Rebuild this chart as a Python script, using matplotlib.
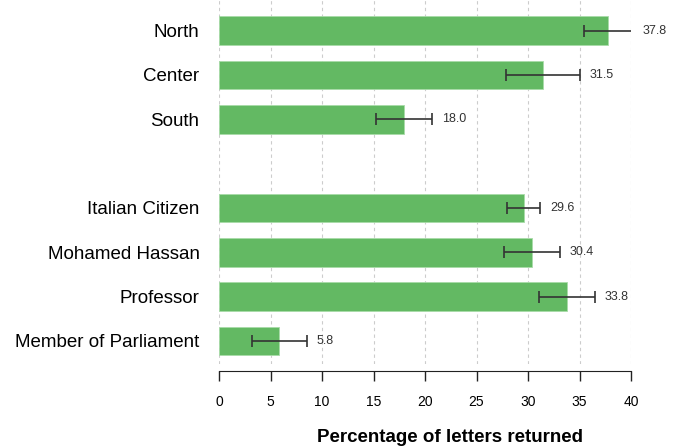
import matplotlib
matplotlib.use("Agg")
import matplotlib.pyplot as plt
import numpy as np

plt.rcParams['font.family'] = ['Liberation Sans', 'DejaVu Sans']

# data
groups = ["North", "Center", "South", "Italian Citizen", "Mohamed Hassan", "Professor", "Member of Parliament"]
returned = [37.8, 31.5, 18.0, 29.6, 30.4, 33.8, 5.8]
ci_low = [35.4, 27.9, 15.2, 28.0, 27.7, 31.1, 3.2]
ci_high = [40.2, 35.0, 20.7, 31.2, 33.1, 36.5, 8.5]
positions = [0, 1, 2, 4, 5, 6, 7]  # gap between region and sender blocks
x_ticks = [0, 5, 10, 15, 20, 25, 30, 35, 40]

bar_color = '#63b963'

fig = plt.figure(figsize=(6.82, 4.46), dpi=100)
ax = fig.add_axes([219 / 682, 82 / 446, 412 / 682, 364 / 446])

vals = np.array(returned)
xerr = np.array([vals - np.array(ci_low), np.array(ci_high) - vals])

ax.barh(positions, returned, height=0.65, color=bar_color, edgecolor='#a8dca8', linewidth=0.6, zorder=2)
ax.errorbar(returned, positions, xerr=xerr, fmt='none', ecolor='#333333', elinewidth=1.2,
            capsize=4, capthick=1.2, zorder=3)

for v, hi, p in zip(returned, ci_high, positions):
    ax.annotate(f"{v:.1f}", xy=(hi, p), xytext=(7, 0), textcoords='offset points',
                va='center', ha='left', fontsize=9, color='#333333', annotation_clip=False)

ax.set_xlim(0, 40)
ax.set_ylim(7.52, -0.69)
ax.set_xticks(x_ticks)
ax.set_xticklabels([str(t) for t in x_ticks], fontsize=11.5)
ax.set_yticks(positions)
ax.set_yticklabels(groups, fontsize=13.5)
ax.tick_params(axis='y', length=0, pad=14)
ax.tick_params(axis='x', length=7, width=1, color='#222222', pad=10)

ax.grid(axis='x', linestyle=(0, (3, 3)), color='#cccccc', linewidth=0.8, zorder=0)
ax.set_axisbelow(True)
for s in ['top', 'right', 'left']:
    ax.spines[s].set_visible(False)
ax.spines['bottom'].set_position(('outward', 5))
ax.spines['bottom'].set_color('#222222')

fig.text(450 / 682, 1 - 437 / 446, "Percentage of letters returned", ha='center', va='center',
         fontsize=13.5, fontweight='bold')

fig.savefig("out.png", dpi=100)
